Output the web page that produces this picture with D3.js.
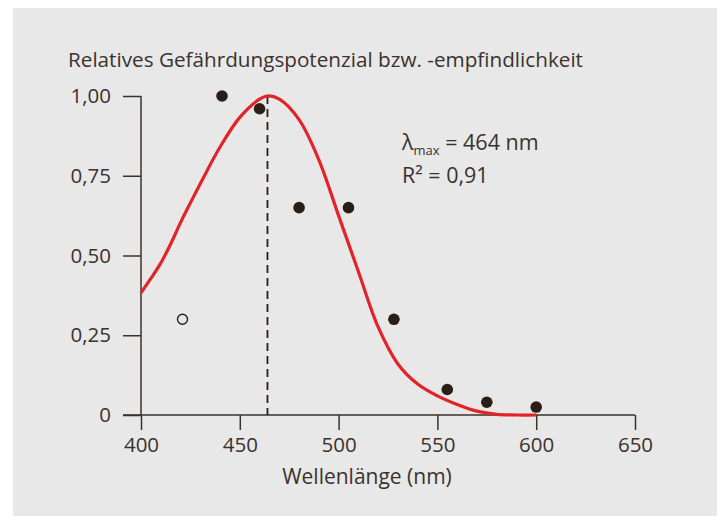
<!DOCTYPE html>
<html>
<head>
<meta charset="utf-8">
<script src="https://cdn.jsdelivr.net/npm/d3@7"></script>
<style>
  body { margin: 0; background: #fff; }
  svg { display: block; font-family: "Open Sans", sans-serif; }
</style>
</head>
<body>
<div class="chart"></div>
<script>
(function(){

// measured points (filled)
var pointNm = [441, 460, 480, 505, 528, 555, 575, 600];
var pointVal = [1.00, 0.96, 0.65, 0.65, 0.30, 0.08, 0.04, 0.025];

// excluded point (open circle)
var outlierNm = [421];
var outlierVal = [0.30];

// fitted curve
var curveNm = [400, 405, 410, 415, 420, 425, 430, 440, 450, 460, 464, 470, 480, 490, 500, 510, 520, 530, 540, 550, 560, 570, 580, 590, 600];
var curveVal = [0.383, 0.428, 0.476, 0.536, 0.603, 0.665, 0.725, 0.84, 0.933, 0.99, 1.0, 0.99, 0.926, 0.80, 0.625, 0.45, 0.276, 0.16, 0.097, 0.06, 0.033, 0.012, 0.002, 0, 0];

var lambdaMax = 464;
var xTicks = [400, 450, 500, 550, 600, 650];
var yTicks = [0, 0.25, 0.5, 0.75, 1];

var title = "Relatives Gefährdungspotenzial bzw. -empfindlichkeit";
var xLabel = "Wellenlänge (nm)";

var width = 721,
    height = 517;

var textColor = "#3b322d",
    dotColor = "#2a1e16",
    red = "#e2232a";

var svg = d3.select(".chart")
    .append("svg")
    .attr("width", width)
    .attr("height", height);

// grey panel
svg.append("rect")
    .attr("x", 13)
    .attr("y", 8)
    .attr("width", 704)
    .attr("height", 508)
    .attr("fill", "#e8e8e8");

var x = d3.scaleLinear().domain([400, 650]).range([141, 635]);
var y = d3.scaleLinear().domain([0, 1]).range([415, 96]);

// y axis
var yAxis = svg.append("g")
    .attr("transform", "translate(141,0)")
    .call(d3.axisLeft(y)
        .tickValues(yTicks)
        .tickSize(18)
        .tickPadding(12)
        .tickFormat(function(d){
            return d === 0 ? "0" : d3.format(".2f")(d).replace(".", ",");
        }));

// x axis
var xAxis = svg.append("g")
    .attr("transform", "translate(0,415)")
    .call(d3.axisBottom(x)
        .tickValues(xTicks)
        .tickSize(15)
        .tickPadding(7));

// d3 puts sans-serif 10px on the axis groups, drop that
yAxis.attr("font-family", null).attr("font-size", null);
xAxis.attr("font-family", null).attr("font-size", null);

// x axis line extends left to the y tick length
xAxis.select(".domain")
    .attr("d", "M123,0H" + x(650));
yAxis.select(".domain")
    .attr("d", "M0," + y(1) + "V" + y(0));

svg.selectAll(".tick line, .domain")
    .attr("stroke", textColor)
    .attr("stroke-width", 1.5);
svg.selectAll(".tick text")
    .attr("fill", textColor)
    .style("font-size", "20.5px");

// dashed line at lambda max
svg.append("line")
    .attr("x1", x(lambdaMax))
    .attr("x2", x(lambdaMax))
    .attr("y1", y(1))
    .attr("y2", y(0))
    .attr("stroke", dotColor)
    .attr("stroke-width", 1.8)
    .attr("stroke-dasharray", "8,5");

// fitted curve
var line = d3.line()
    .x(function(d, i){ return x(curveNm[i]); })
    .y(function(d){ return y(d); })
    .curve(d3.curveCatmullRom.alpha(0.5));

svg.append("path")
    .datum(curveVal)
    .attr("d", line)
    .attr("fill", "none")
    .attr("stroke", red)
    .attr("stroke-width", 3.2);

// points
svg.selectAll(".pt")
    .data(pointVal)
    .enter()
    .append("circle")
    .attr("class", "pt")
    .attr("cx", function(d, i){ return x(pointNm[i]); })
    .attr("cy", function(d){ return y(d); })
    .attr("r", 5.8)
    .attr("fill", dotColor);

svg.selectAll(".out")
    .data(outlierVal)
    .enter()
    .append("circle")
    .attr("class", "out")
    .attr("cx", function(d, i){ return x(outlierNm[i]); })
    .attr("cy", function(d){ return y(d); })
    .attr("r", 5)
    .attr("fill", "none")
    .attr("stroke", dotColor)
    .attr("stroke-width", 1.4);

// title
svg.append("text")
    .attr("x", 68)
    .attr("y", 67)
    .attr("fill", textColor)
    .style("font-size", "20.7px")
    .text(title);

// x label
svg.append("text")
    .attr("x", 367)
    .attr("y", 484)
    .attr("text-anchor", "middle")
    .attr("fill", textColor)
    .style("font-size", "21px")
    .text(xLabel);

// annotation
var ann = svg.append("g")
    .attr("fill", textColor);

var t1 = ann.append("text")
    .attr("x", 402)
    .attr("y", 150)
    .style("font-size", "21.5px");
t1.append("tspan").text("λ");
t1.append("tspan").attr("dy", 5).style("font-size", "13px").text("max");
t1.append("tspan").attr("dy", -5).text(" = " + lambdaMax + " nm");

var t2 = ann.append("text")
    .attr("x", 402)
    .attr("y", 183)
    .style("font-size", "21.5px");
t2.append("tspan").text("R² = 0,91");

})();
</script>
</body>
</html>
